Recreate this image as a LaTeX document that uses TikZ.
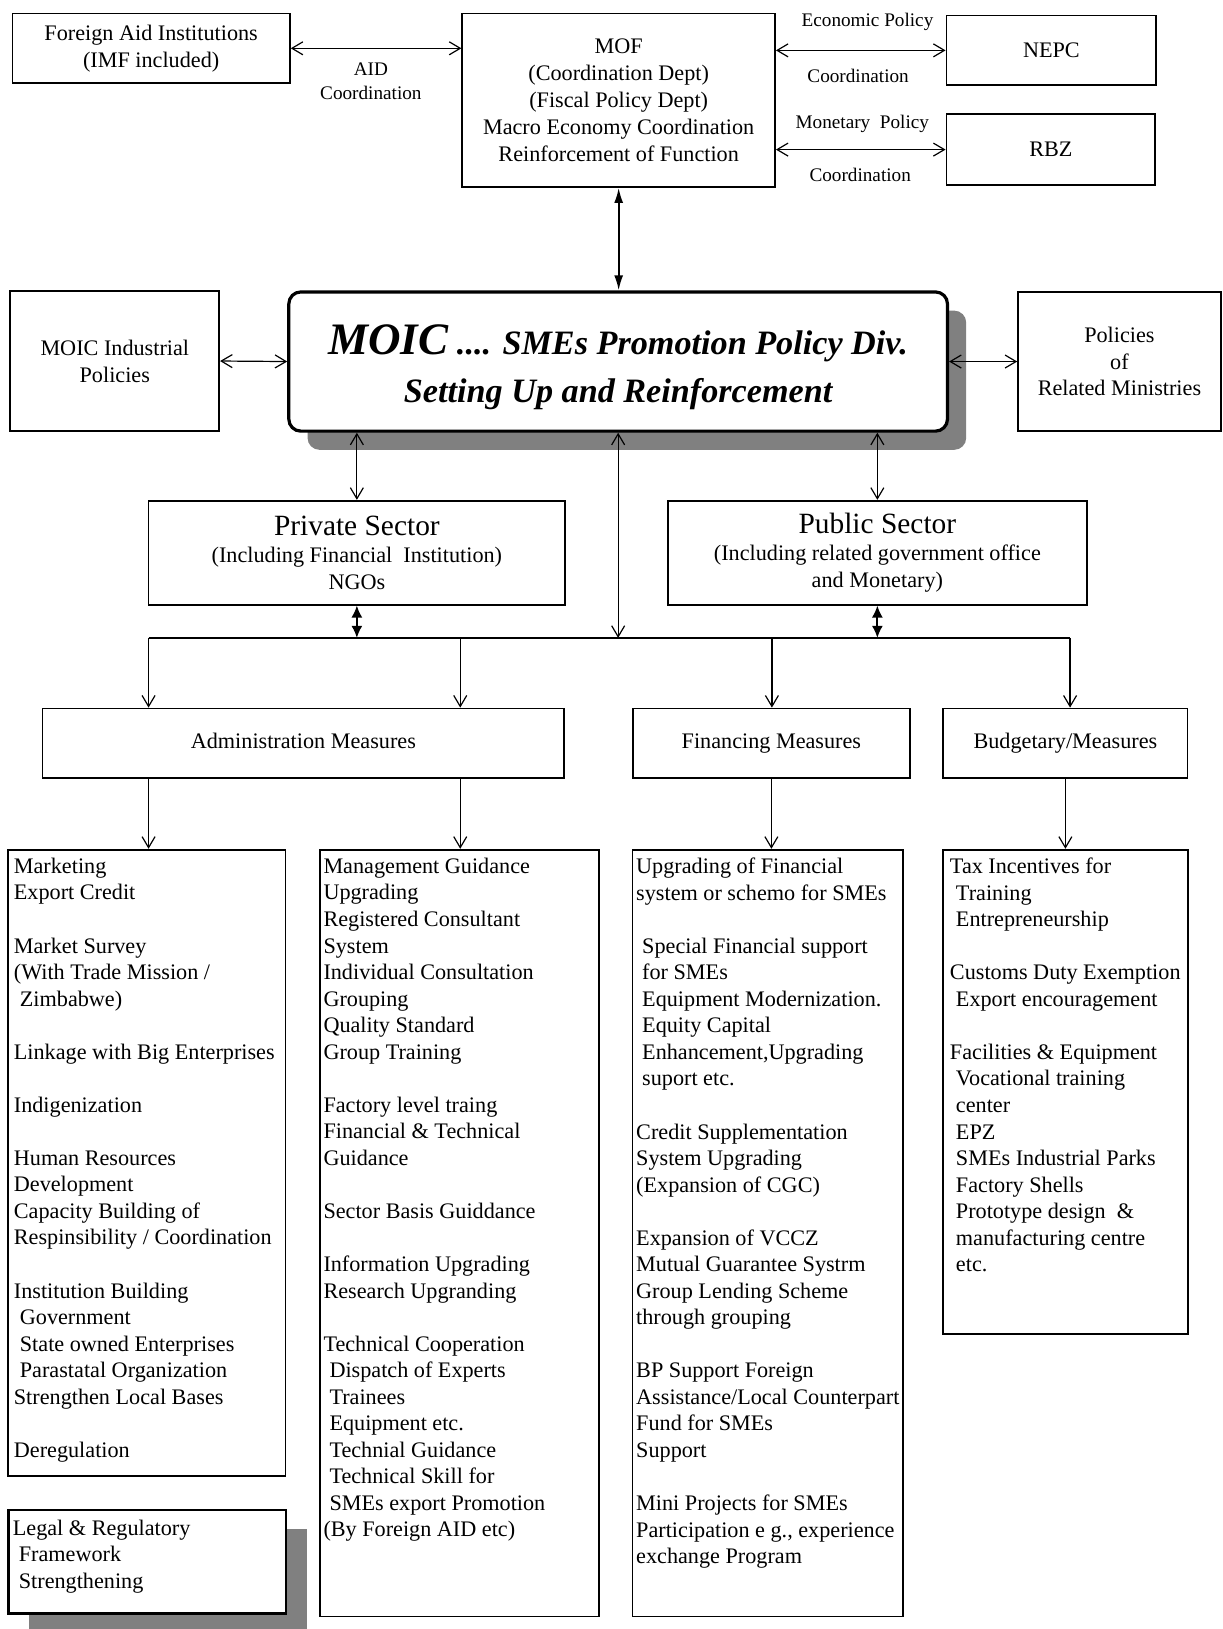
\documentclass[tikz,border=0pt]{standalone}
\usepackage{fontspec}
\setmainfont{Liberation Serif}
\usetikzlibrary{arrows.meta,shadows}
\newlength\upx
\setlength\upx{0.5195pt}
\begin{document}
\begin{tikzpicture}[x=0.5195pt, y=-0.5195pt,
  box/.style={draw, line width=0.9pt, inner sep=0pt, align=center, font=\fontsize{11.1}{13.4}\selectfont},
  lbl/.style={inner sep=0pt, align=center, font=\fontsize{9.6}{12}\selectfont},
  lst/.style={anchor=north west, inner sep=0pt, align=left, font=\fontsize{11.1}{13.27}\selectfont},
  frame/.style={draw, line width=0.9pt, anchor=north west, inner sep=0pt},
  oarr/.style={line width=0.6pt, {Straight Barb[length=5.5pt,width=6.5pt]}-{Straight Barb[length=5.5pt,width=6.5pt]}},
  darr/.style={line width=0.6pt, -{Straight Barb[length=5.5pt,width=6.5pt]}},
  harr/.style={line width=0.9pt, {Latex[length=6pt,width=5.5pt]}-{Latex[length=6pt,width=5.5pt]}},
  hmof/.style={line width=0.9pt, {Latex[length=7.5pt,width=4.5pt]}-{Latex[length=7.5pt,width=4.5pt]}},
  shad/.style={drop shadow={shadow xshift=#1, shadow yshift=-9.35pt, fill=black!50, opacity=1}}
]
\useasboundingbox (0,0) rectangle (1177,1568);

% ---------- top row ----------
\node[box, minimum width=267\upx, minimum height=67\upx] (FA) at (145.5,46.5) {Foreign Aid Institutions\\(IMF included)};
\node[box, minimum width=301\upx, minimum height=167\upx] (MOF) at (595.5,96.5)
  {MOF\\(Coordination Dept)\\(Fiscal Policy Dept)\\Macro Economy Coordination\\Reinforcement of Function};
\node[box, minimum width=202\upx, minimum height=67\upx] (NEPC) at (1012,48.5) {NEPC};
\node[box, minimum width=201\upx, minimum height=68\upx] (RBZ) at (1011.5,144) {RBZ};

\node[lbl] (aidl) at (357,78.5) {AID\\Coordination};
\node[lbl] (ep) at (835,21) {Economic Policy};
\node[lbl] (epc) at (826,73) {Coordination};
\node[lbl] (mp) at (830,119) {Monetary\ \ Policy};
\node[lbl] (mpc) at (828,168) {Coordination};

% ---------- MOIC row ----------
\node[box, minimum width=201\upx, minimum height=135\upx] (MInd) at (110.5,347.5) {MOIC Industrial\\Policies};
\node[box, minimum width=195\upx, minimum height=134\upx] (PRel) at (1077.5,348) {Policies\\of\\Related Ministries};
\node[box, line width=1.6pt, rounded corners=6pt, fill=white, shad=9.35pt,
      minimum width=634\upx, minimum height=134\upx,
      font=\fontsize{17.1}{23.9}\selectfont\bfseries\itshape] (MOIC) at (595,348)
  {\rule{0pt}{20.5pt}{\fontsize{22.5}{23.9}\selectfont MOIC} .... SMEs Promotion Policy Div.\\Setting Up and Reinforcement};

% ---------- sectors ----------
\node[box, minimum width=401\upx, minimum height=100\upx] (Priv) at (343.5,532)
  {{\fontsize{14.7}{17}\selectfont Private Sector}\\(Including Financial\ \ Institution)\\NGOs};
\node[box, minimum width=403\upx, minimum height=100\upx] (Publ) at (844.5,532)
  {{\fontsize{14.7}{17}\selectfont Public Sector}\\(Including related government office\\and Monetary)};

% ---------- measures ----------
\node[box, minimum width=502\upx, minimum height=67\upx] (Adm) at (292,715.5) {\strut Administration Measures};
\node[box, minimum width=267\upx, minimum height=67\upx] (Fin) at (742.5,715.5) {\strut Financing Measures};
\node[box, minimum width=235\upx, minimum height=67\upx] (Bud) at (1025.5,715.5) {\strut Budgetary/Measures};

% ---------- list frames ----------
\node[frame, minimum width=267\upx, minimum height=603\upx] (L1) at (7,817) {};
\node[frame, minimum width=269\upx, minimum height=738\upx] (L2) at (307,817) {};
\node[frame, minimum width=260\upx, minimum height=738\upx] (L3) at (608,817) {};
\node[frame, minimum width=236\upx, minimum height=466\upx] (L4) at (907,817) {};
\node[frame, line width=1.4pt, fill=white, shad=10.39pt, minimum width=267\upx, minimum height=100\upx] (Leg) at (7,1452) {};

% ---------- list texts ----------
\node[lst] (t1) at (13,825.5) {Marketing\\Export Credit\\\mbox{}\\Market Survey\\(With Trade Mission /\\\hspace*{3pt}Zimbabwe)\\\mbox{}\\Linkage with Big Enterprises\\\mbox{}\\Indigenization\\\mbox{}\\Human Resources\\Development\\Capacity Building of\\Respinsibility / Coordination\\\mbox{}\\Institution Building\\\hspace*{3pt}Government\\\hspace*{3pt}State owned Enterprises\\\hspace*{3pt}Parastatal Organization\\Strengthen Local Bases\\\mbox{}\\Deregulation};
\node[lst] (t2) at (311,825.5) {Management Guidance\\Upgrading\\Registered Consultant\\System\\Individual Consultation\\Grouping\\Quality Standard\\Group Training\\\mbox{}\\Factory level traing\\Financial \& Technical\\Guidance\\\mbox{}\\Sector Basis Guiddance\\\mbox{}\\Information Upgrading\\Research Upgranding\\\mbox{}\\Technical Cooperation\\\hspace*{3pt}Dispatch of Experts\\\hspace*{3pt}Trainees\\\hspace*{3pt}Equipment etc.\\\hspace*{3pt}Technial Guidance\\\hspace*{3pt}Technical Skill for\\\hspace*{3pt}SMEs export Promotion\\(By Foreign AID etc)};
\node[lst] (t3) at (612,825.5) {Upgrading of Financial\\system or schemo for SMEs\\\mbox{}\\\hspace*{3pt}Special Financial support\\\hspace*{3pt}for SMEs\\\hspace*{3pt}Equipment Modernization.\\\hspace*{3pt}Equity Capital\\\hspace*{3pt}Enhancement,Upgrading\\\hspace*{3pt}suport etc.\\\mbox{}\\Credit Supplementation\\System Upgrading\\(Expansion of CGC)\\\mbox{}\\Expansion of VCCZ\\Mutual Guarantee Systrm\\Group Lending Scheme\\through grouping\\\mbox{}\\BP Support Foreign\\Assistance/Local Counterpart\\Fund for SMEs\\Support\\\mbox{}\\Mini Projects for SMEs\\Participation e g., experience\\exchange Program};
\node[lst] (t4) at (914,825.5) {Tax Incentives for\\\hspace*{3pt}Training\\\hspace*{3pt}Entrepreneurship\\\mbox{}\\Customs Duty Exemption\\\hspace*{3pt}Export encouragement\\\mbox{}\\Facilities \& Equipment\\\hspace*{3pt}Vocational training\\\hspace*{3pt}center\\\hspace*{3pt}EPZ\\\hspace*{3pt}SMEs Industrial Parks\\\hspace*{3pt}Factory Shells\\\hspace*{3pt}Prototype design\ \ \&\\\hspace*{3pt}manufacturing centre\\\hspace*{3pt}etc.};
\node[lst] (t5) at (12,1462.5) {Legal \& Regulatory\\\hspace*{3pt}Framework\\\hspace*{3pt}Strengthening};

% ---------- connectors ----------
\draw[oarr] (FA.east) -- (FA.east -| MOF.west);
\draw[oarr] (MOF.east |- NEPC.west) -- (NEPC.west);
\draw[oarr] (MOF.east |- RBZ.west) -- (RBZ.west);
\draw[hmof] (MOF.south) -- (MOF.south |- MOIC.north);
\draw[oarr] (MInd.east) -- (MOIC.west);
\draw[oarr] (MOIC.east) -- (PRel.west);
\draw[oarr] (Priv.north |- MOIC.south) -- (Priv.north);
\draw[oarr] (Publ.north |- MOIC.south) -- (Publ.north);

\coordinate (bL) at (143,614);
\coordinate (bA) at (443,614);
\coordinate (bM) at (595,614);
\coordinate (bF) at (743,614);
\coordinate (bR) at (1030,614);

\draw[oarr] (MOIC.south) -- (bM);
\draw[harr] (Priv.south) -- (Priv.south |- bL);
\draw[harr] (Publ.south) -- (Publ.south |- bL);
\draw[line width=1.1pt] (bL) -- (bR);

\draw[darr] (bL) -- (bL |- Adm.north);
\draw[darr] (bA) -- (bA |- Adm.north);
\draw[darr] (bF) -- (bF |- Fin.north);
\draw[darr] (bR) -- (bR |- Bud.north);

\draw[darr] (bL |- Adm.south) -- (bL |- L1.north);
\draw[darr] (bA |- Adm.south) -- (bA |- L2.north);
\draw[darr] (Fin.south) -- (Fin.south |- L3.north);
\draw[darr] (Bud.south) -- (Bud.south |- L4.north);
\end{tikzpicture}
\end{document}
